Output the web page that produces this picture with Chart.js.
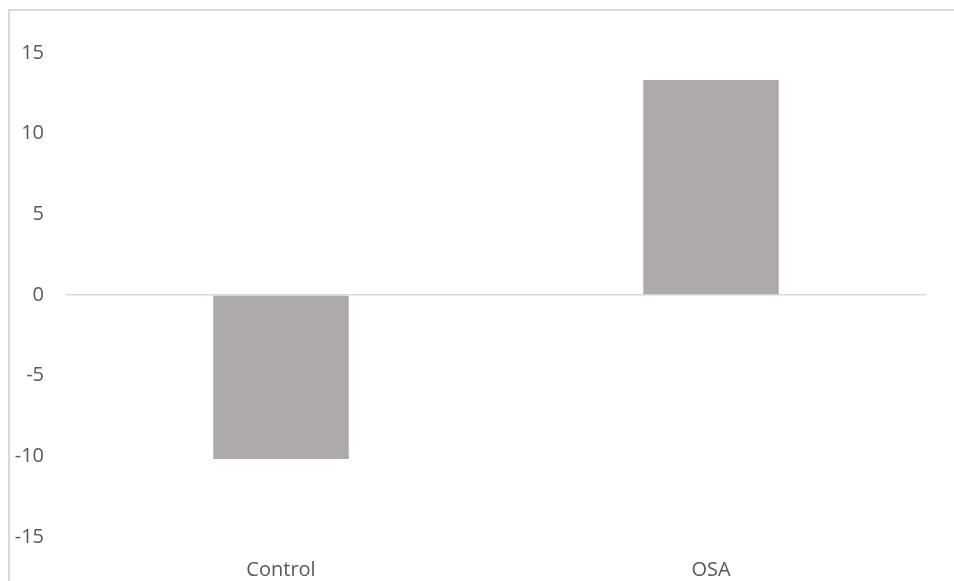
<!DOCTYPE html>
<html>
<head>
<meta charset="utf-8">
<script src="https://cdn.jsdelivr.net/npm/chart.js@4/dist/chart.umd.min.js"></script>
<style>
  body { margin: 0; background: #fff; overflow: hidden; }
  #frame {
    position: absolute; left: 8px; top: 9px; width: 1000px; height: 700px;
    border-left: 2px solid #d9d9d9; border-top: 2px solid #d9d9d9;
    pointer-events: none;
  }
  #chart { position: absolute; left: 0; top: 0; }
</style>
</head>
<body>
<div id="frame"></div>
<canvas id="chart" width="954" height="581"></canvas>
<script>
// data
const groups = ["Control", "OSA"];
const change = [-10.17, 13.33];
const yTicks = [-15, -10, -5, 0, 5, 10, 15];

const textColor = "#595959";
const fontFace = "'Open Sans', 'Noto Sans', sans-serif";

new Chart(
    document.getElementById("chart"),
    {
        type: "bar",

        data: {
            labels: groups,
            datasets: [{
                data: change,
                backgroundColor: "#aeaaaa",
                borderWidth: 0,
                barPercentage: 0.63,
                categoryPercentage: 0.5
            }]
        },

        options: {
            responsive: false,
            animation: false,
            layout: {
                padding: { top: 53, right: 28, left: 0, bottom: 0 }
            },
            plugins: {
                legend: { display: false },
                tooltip: { enabled: false }
            },
            scales: {
                x: {
                    grid: { display: false },
                    border: { display: false },
                    ticks: {
                        color: textColor,
                        font: { family: fontFace, size: 20 },
                        padding: 13
                    },
                    afterFit: s => { s.height = 44; }
                },
                y: {
                    min: yTicks[0],
                    max: yTicks[yTicks.length - 1],
                    afterBuildTicks: s => {
                        s.ticks = yTicks.map(v => ({ value: v }));
                    },
                    border: { display: false },
                    grid: {
                        drawTicks: false,
                        lineWidth: 1.5,
                        color: c => c.tick && c.tick.value === 0 ? "#d9d9d9" : "rgba(0,0,0,0)"
                    },
                    ticks: {
                        color: textColor,
                        font: { family: fontFace, size: 20 },
                        padding: 22
                    },
                    afterFit: s => { s.width = 66; }
                }
            }
        }
    }
);
</script>
</body>
</html>
